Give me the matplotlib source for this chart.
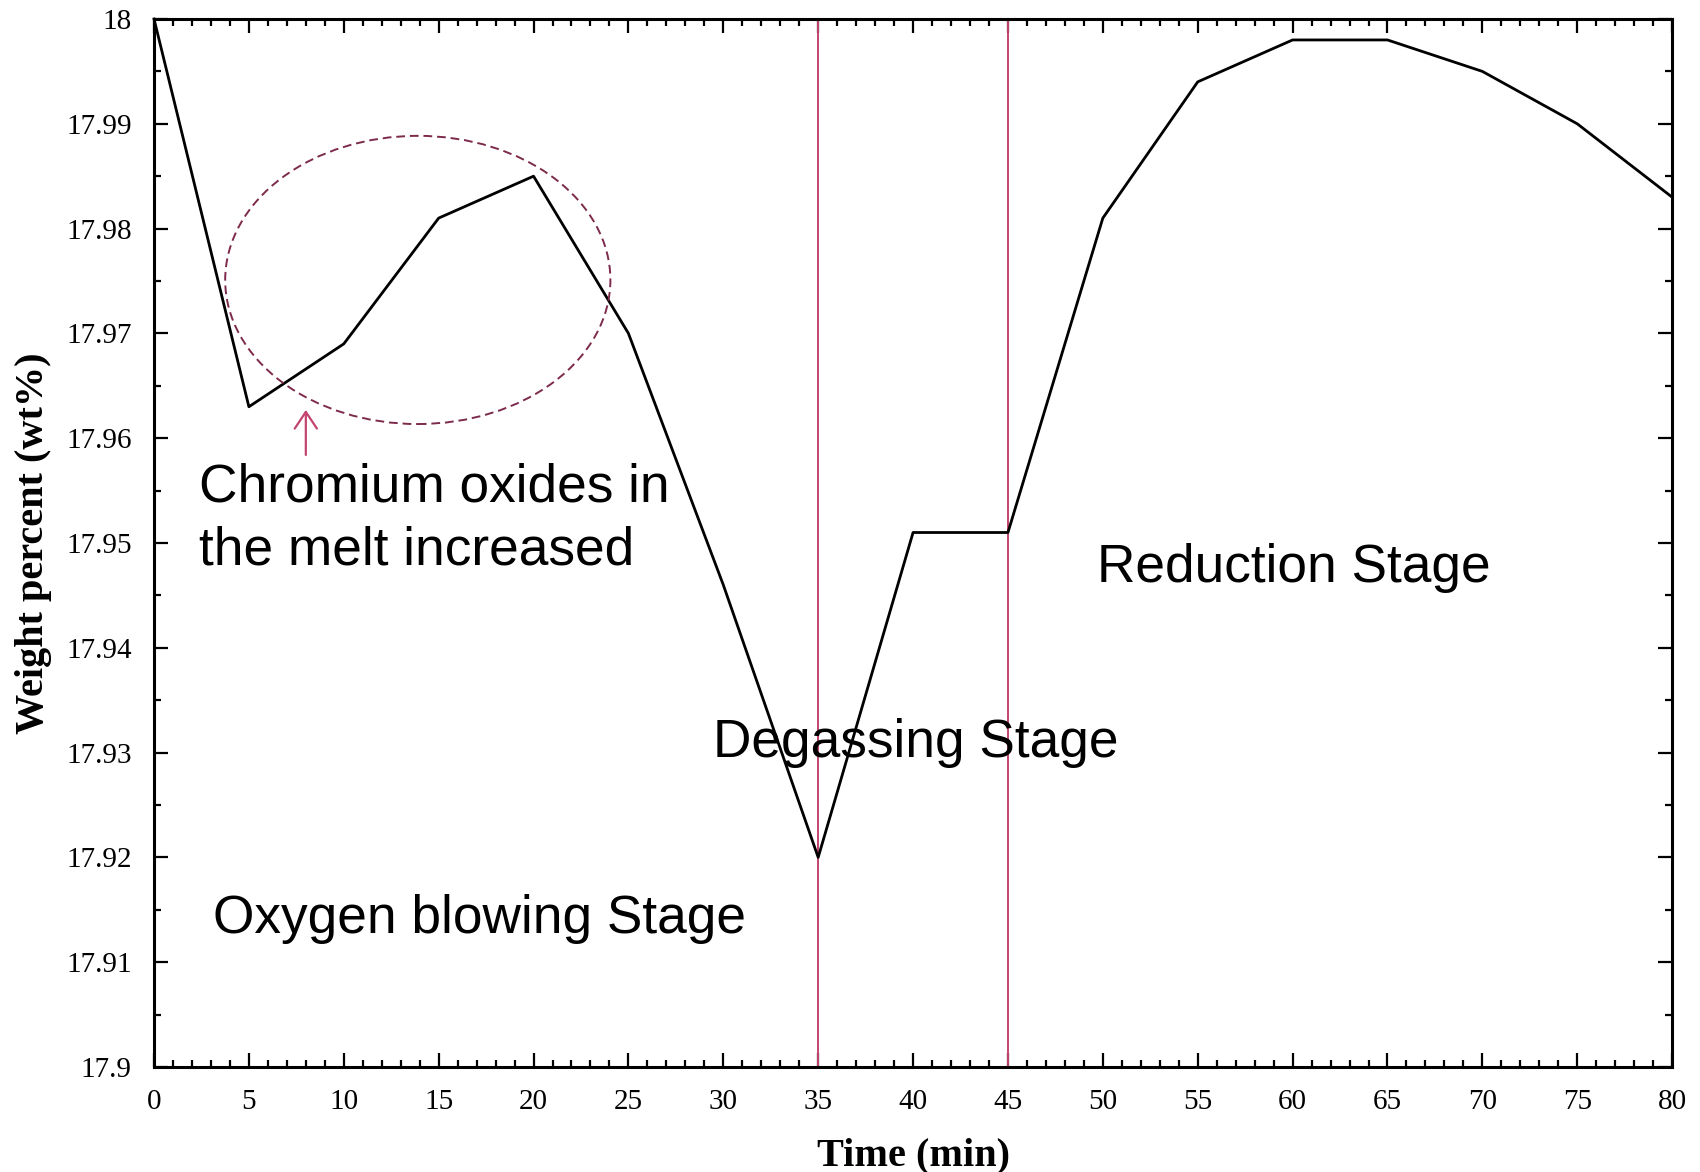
"""Chromium content of the melt across the refining stages."""

import matplotlib

matplotlib.use("Agg")
import numpy as np
from matplotlib import pyplot as plt  # noqa: E402
from matplotlib.patches import Ellipse  # noqa: E402
from matplotlib.ticker import FuncFormatter, MultipleLocator  # noqa: E402

time_min = [0, 5, 10, 15, 20, 25, 30, 35, 40, 45, 50, 55, 60, 65, 70, 75, 80]
cr_wt = [18.000, 17.963, 17.969, 17.981, 17.985, 17.970, 17.946, 17.920, 17.951,
         17.951, 17.981, 17.994, 17.998, 17.998, 17.995, 17.990, 17.983]
stage_bounds = [35, 45]

SERIF = "Liberation Serif"
SANS = "Liberation Sans"
CRIMSON = "#c3456f"
MAROON = "#7d2b4c"

fig = plt.figure(figsize=(17.0, 11.72), dpi=100)
ax = fig.add_axes([0.0906, 0.0896, 0.893, 0.8942])

for xb in stage_bounds:
    ax.axvline(xb, color=CRIMSON, lw=1.4, zorder=2)

ax.plot(time_min, cr_wt, color="black", lw=2.0, zorder=3, clip_on=False)

# dashed ring around the early rise
ring = Ellipse((13.9, 17.9751), 20.3, 0.0275, fill=False, edgecolor=MAROON,
               lw=1.4, linestyle=(0, (4.5, 2.5)), zorder=4)
ax.add_patch(ring)
ax.annotate("", xy=(8, 17.9627), xytext=(8, 17.9584),
            arrowprops=dict(arrowstyle="->,head_length=0.48,head_width=0.32",
                            color=CRIMSON, lw=1.6, mutation_scale=25,
                            shrinkA=0, shrinkB=0))

txt = dict(family=SANS, fontsize=38.3, va="baseline", ha="left", color="black")
# multi-line text sits on the baseline of its last line
ax.text(2.37, 17.9479, "Chromium oxides in\nthe melt increased", linespacing=1.34, **txt)
ax.text(3.11, 17.9128, "Oxygen blowing Stage", **txt)
ax.text(29.46, 17.9296, "Degassing Stage", **txt)
ax.text(49.70, 17.9463, "Reduction Stage", **txt)

ax.set_xlim(0, 80)
ax.set_ylim(17.9, 18.0)
ax.xaxis.set_major_locator(MultipleLocator(5))
ax.xaxis.set_minor_locator(MultipleLocator(1))
ax.yaxis.set_major_locator(MultipleLocator(0.01))
ax.yaxis.set_minor_locator(MultipleLocator(0.005))
ax.yaxis.set_major_formatter(FuncFormatter(lambda v, _: f"{v:g}"))

ax.tick_params(which="both", direction="in", top=True, right=True, width=1.6)
ax.tick_params(which="major", length=10)
ax.tick_params(which="minor", length=5)
ax.tick_params(axis="x", which="major", pad=16)
ax.tick_params(axis="y", which="major", pad=16)
for lab in ax.get_xticklabels() + ax.get_yticklabels():
    lab.set_family(SERIF)
    lab.set_fontsize(21)

for sp in ax.spines.values():
    sp.set_linewidth(2.2)

ax.set_xlabel("Time (min)", family=SERIF, fontsize=29, fontweight="bold", labelpad=16)
ax.set_ylabel("Weight percent (wt%)", family=SERIF, fontsize=29, fontweight="bold", labelpad=10)

fig.savefig("out.png", dpi=100)
